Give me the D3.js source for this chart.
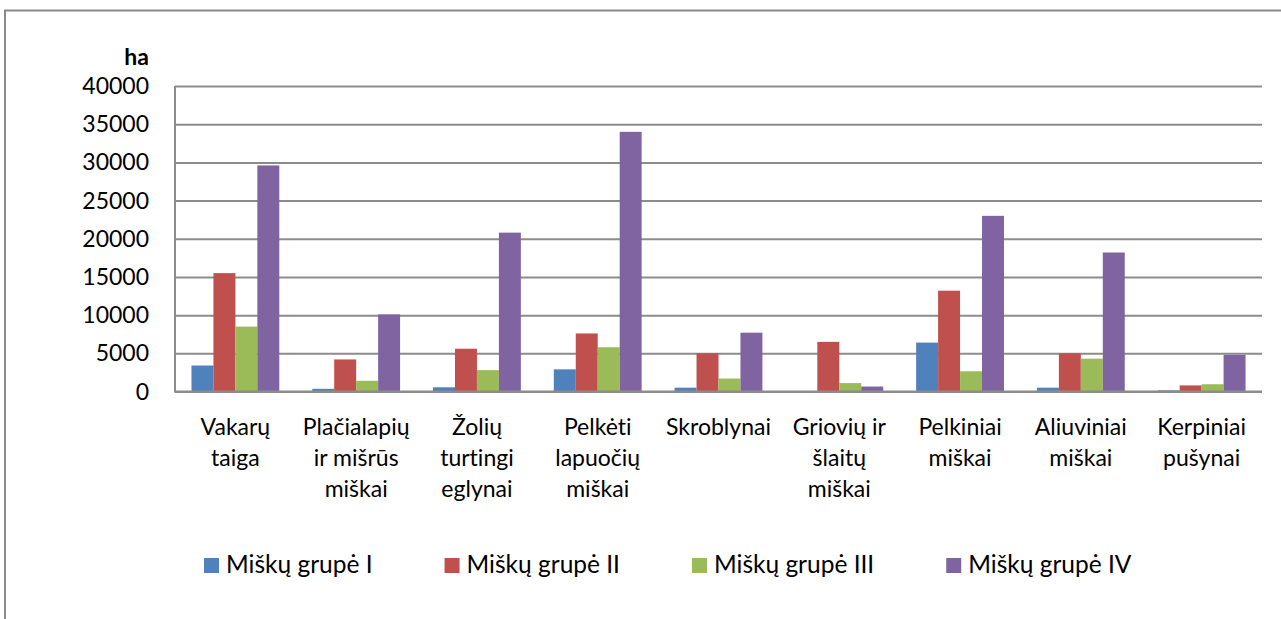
<!DOCTYPE html>
<html>
<head>
<meta charset="utf-8">
<script src="https://cdn.jsdelivr.net/npm/d3@7"></script>
<style>
  body { margin: 0; background: #fff; overflow: hidden; }
  svg { display: block; }
  svg text { font-family: Lato, "Open Sans", sans-serif; fill: #000; font-variant-ligatures: none; }
</style>
</head>
<body>
<div class="svgContainer"></div>
<script>
// categories (line breaks as in the original)
let categories = [
  "Vakarų|taiga",
  "Plačialapių|ir mišrūs|miškai",
  "Žolių|turtingi|eglynai",
  "Pelkėti|lapuočių|miškai",
  "Skroblynai",
  "Griovių ir|šlaitų|miškai",
  "Pelkiniai|miškai",
  "Aliuviniai|miškai",
  "Kerpiniai|pušynai"
];

let seriesNames = ["Miškų grupė I", "Miškų grupė II", "Miškų grupė III", "Miškų grupė IV"];
let seriesColors = ["#4F81BD", "#C0504D", "#9BBB59", "#8064A2"];

let grupe1 = [3400, 350, 550, 2900, 500, 0, 6400, 500, 150];
let grupe2 = [15500, 4200, 5600, 7600, 5000, 6500, 13200, 5000, 800];
let grupe3 = [8500, 1400, 2800, 5800, 1700, 1100, 2650, 4300, 950];
let grupe4 = [29600, 10100, 20800, 34000, 7700, 650, 23000, 18200, 4800];

let yTicks = [0, 5000, 10000, 15000, 20000, 25000, 30000, 35000, 40000];

let seriesValues = [grupe1, grupe2, grupe3, grupe4];

let w = 1281;
let h = 619;
let plotLeft = 175, plotRight = 1262, plotTop = 86, plotBottom = 391.5;
let fontSize = 23;

const svg = d3.select(".svgContainer")
    .append("svg")
    .attr("width", w)
    .attr("height", h);

// chart border
svg.append("rect")
    .attr("x", 5).attr("y", 10.5)
    .attr("width", 1300).attr("height", 700)
    .attr("fill", "none")
    .attr("stroke", "#8a8a8a")
    .attr("stroke-width", 2);

let xScale = d3.scaleBand()
    .domain(categories)
    .range([plotLeft, plotRight])
    .padding(0);

let xInner = d3.scaleBand()
    .domain(seriesNames)
    .range([0, xScale.bandwidth()])
    .paddingInner(0)
    .paddingOuter(0.75);

let yScale = d3.scaleLinear()
    .domain([0, 40000])
    .range([plotBottom, plotTop]);

// gridlines
svg.append("g")
    .attr("class", "grid")
    .attr("transform", `translate(${plotLeft},0)`)
    .call(d3.axisLeft(yScale).tickValues(yTicks).tickSize(-(plotRight - plotLeft)).tickFormat(""))
    .call(g => g.select(".domain").remove())
    .call(g => g.selectAll("line").attr("stroke", "#8c8c8c").attr("stroke-width", 2));

// bars
let rows = categories.map((c, i) => ({ cat: c, vals: seriesNames.map((s, j) => ({ s: s, v: seriesValues[j][i], j: j })) }));

svg.append("g")
    .selectAll("g")
    .data(rows)
    .enter()
    .append("g")
    .attr("transform", d => `translate(${xScale(d.cat)},0)`)
    .selectAll("rect")
    .data(d => d.vals)
    .enter()
    .append("rect")
    .attr("x", d => xInner(d.s))
    .attr("y", d => yScale(d.v))
    .attr("width", xInner.bandwidth())
    .attr("height", d => yScale(0) - yScale(d.v))
    .attr("fill", d => seriesColors[d.j]);

// axes lines
svg.append("line")
    .attr("x1", plotLeft).attr("x2", plotLeft)
    .attr("y1", plotTop).attr("y2", plotBottom)
    .attr("stroke", "#8c8c8c").attr("stroke-width", 2);
svg.append("line")
    .attr("x1", plotLeft - 1).attr("x2", plotRight)
    .attr("y1", plotBottom).attr("y2", plotBottom)
    .attr("stroke", "#8c8c8c").attr("stroke-width", 2);

// y tick labels
svg.append("g")
    .selectAll("text")
    .data(yTicks)
    .enter()
    .append("text")
    .attr("x", 149)
    .attr("y", d => yScale(d) + 8)
    .attr("text-anchor", "end")
    .style("font-size", fontSize + "px")
    .text(d => d);

svg.append("text")
    .attr("x", 149)
    .attr("y", 65)
    .attr("text-anchor", "end")
    .style("font-size", fontSize + "px")
    .style("font-weight", "bold")
    .text("ha");

// category labels
let labels = svg.append("g")
    .selectAll("text")
    .data(categories)
    .enter()
    .append("text")
    .attr("text-anchor", "middle")
    .style("font-size", fontSize + "px")
    .attr("transform", d => `translate(${xScale(d) + xScale.bandwidth() / 2},435)`);

labels.selectAll("tspan")
    .data(d => d.split("|"))
    .enter()
    .append("tspan")
    .attr("x", 0)
    .attr("y", (d, i) => i * 31)
    .text(d => d);

// legend
let legend = svg.append("g").attr("transform", "translate(204,558)");
let lx = 0;
seriesNames.forEach((s, j) => {
    let item = legend.append("g").attr("transform", `translate(${lx},0)`);
    item.append("rect")
        .attr("width", 15).attr("height", 15)
        .attr("fill", seriesColors[j]);
    let t = item.append("text")
        .attr("x", 22)
        .attr("y", 15)
        .style("font-size", "24.5px")
        .text(s);
    lx += 22 + t.node().getComputedTextLength() + 72;
});
</script>
</body>
</html>
